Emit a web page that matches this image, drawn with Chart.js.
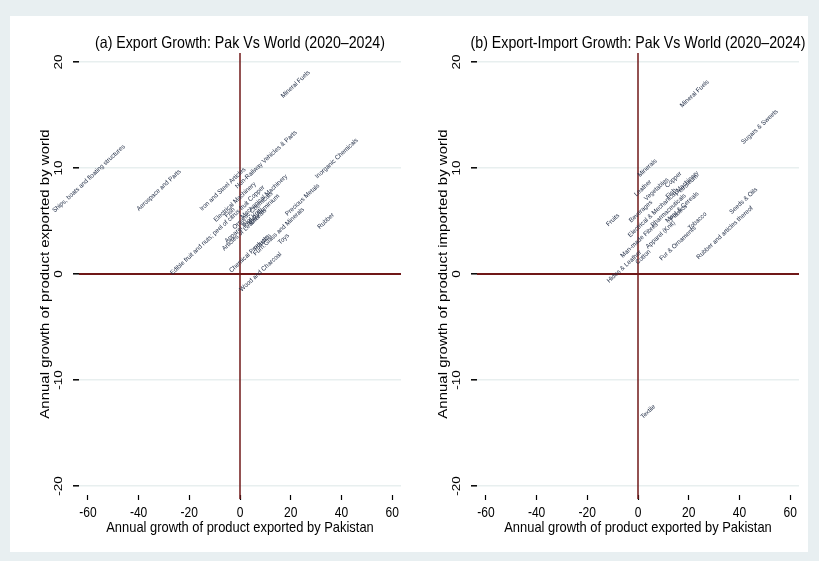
<!DOCTYPE html>
<html>
<head>
<meta charset="utf-8">
<script src="https://cdn.jsdelivr.net/npm/chart.js@4.4.1/dist/chart.umd.min.js"></script>
<style>
  html, body { margin: 0; padding: 0; width: 819px; height: 561px; overflow: hidden; background: #e8eff1; }
  #panel { position: absolute; left: 10px; top: 16px; width: 798px; height: 536px; background: #ffffff; }
  .box { position: absolute; top: 16px; width: 399px; height: 536px; }
</style>
</head>
<body>
<div id="panel"></div>
<div class="box" style="left:10px"><canvas id="exportChart" width="399" height="536"></canvas></div>
<div class="box" style="left:408px"><canvas id="tradeChart" width="399" height="536"></canvas></div>
<script>
// Axis ticks shared by both panels
const xTickValues = [-60, -40, -20, 0, 20, 40, 60];
const yTickValues = [-20, -10, 0, 10, 20];

// (a) Export growth: Pakistan vs world, 2020–2024 (% per year)
const exportProducts = [
  "Ships, boats and floating structures", "Aerospace and Parts", "Iron and Steel Articles",
  "Non-Railway Vehicles & Parts", "Mineral Fuels", "Inorganic Chemicals", "Precious Metals",
  "Rubber", "Furn.Glass and Minerals", "Toys", "Wood and Charcoal", "Chemical Products",
  "Plastics", "Edible fruit and nuts; peel of citrus fruit",
  "Electrical Machinery", "Copper", "Mechanical Machinery", "Aluminium", "Organic Chemicals",
  "Apparel (Not Knit)", "Cereals", "Fish", "Paper", "Articles of Leather"
];
const exportPakGrowth = [
  -59.6, -32.0, -6.8, 10.3, 21.9, 38.1, 24.6,
  33.9, 15.3, 17.2, 8.1, 3.6,
  8.9, -12.0,
  -2.0, 6.5, 9.5, 11.0, 5.0,
  1.5, 7.0, -4.0, 4.0, 0.5
];
const exportWorldGrowth = [
  9.0, 7.9, 8.0, 10.8, 17.9, 10.9, 7.0,
  5.0, 4.0, 3.3, 0.2, 1.9,
  3.0, 3.4,
  6.8, 7.6, 7.3, 6.5, 6.0,
  4.6, 5.4, 5.8, 5.0, 3.9
];

// (b) Pakistan export growth vs world import growth, 2020–2024 (% per year)
const tradeProducts = [
  "Mineral Fuels", "Sugars & Sweets", "Minerals", "Leather", "Vegetables", "Copper",
  "Petroleum", "Fruits", "Beverages", "Tobacco", "Seeds & Oils", "Rubber and articles thereof",
  "Apparel (Knit)", "Hides & Leather", "Textile", "Fur & Ornaments", "Meat & Cereals",
  "Electrical & Mechanical Machinery", "Pharmaceuticals", "Man-made Fibres", "Cotton",
  "Fish", "Plastics"
];
const tradePakGrowth = [
  22.3, 48.0, 3.7, 1.9, 7.3, 14.0,
  19.2, -9.9, 1.1, 23.4, 41.6, 34.2,
  8.9, -5.4, 4.0, 15.7, 17.4,
  10.0, 12.0, 0.5, 2.0,
  13.0, 16.0
];
const tradeWorldGrowth = [
  17.0, 13.9, 10.0, 8.1, 8.0, 8.9,
  8.4, 5.1, 5.9, 5.0, 6.9, 3.9,
  3.7, 0.7, -13.0, 2.9, 6.3,
  6.6, 6.0, 3.2, 1.6,
  7.6, 5.8
];

const FONT = '"Liberation Sans", Arial, sans-serif';
const LABEL_COLOR = '#26324a';
const REF_LINE = '#701818';
const SQUEEZE = 0.86;   // horizontal condensing of axis text

// draw text condensed along the page's x direction, then rotated
function drawText(ctx, text, x, y, size, sx, rot, color) {
  ctx.save();
  ctx.translate(x, y);
  ctx.scale(sx, 1);
  if (rot) ctx.rotate(rot);
  ctx.font = size + 'px ' + FONT;
  ctx.fillStyle = color || '#000';
  ctx.textAlign = 'center';
  ctx.textBaseline = 'middle';
  ctx.fillText(text, 0, 0);
  ctx.restore();
}

// small product labels, rotated and lightly condensed along their own direction
function drawLabel(ctx, text, x, y) {
  ctx.save();
  ctx.translate(x, y);
  ctx.rotate(-43 * Math.PI / 180);
  ctx.scale(0.95, 1);
  ctx.font = '6.5px ' + FONT;
  ctx.fillStyle = LABEL_COLOR;
  ctx.textAlign = 'center';
  ctx.textBaseline = 'middle';
  ctx.fillText(text, 0, 0);
  ctx.restore();
}

const decorPlugin = {
  id: 'decor',
  beforeDatasetsDraw(chart) {
    const { ctx, chartArea: a, scales: { x, y } } = chart;
    ctx.save();
    ctx.strokeStyle = REF_LINE;
    // zero lines
    ctx.lineWidth = 2;
    const y0 = y.getPixelForValue(0);
    ctx.beginPath(); ctx.moveTo(a.left, y0); ctx.lineTo(a.right, y0); ctx.stroke();
    ctx.lineWidth = 1.5;
    const x0 = x.getPixelForValue(0);
    ctx.beginPath(); ctx.moveTo(x0, a.top); ctx.lineTo(x0, a.bottom + 4); ctx.stroke();
    ctx.restore();
  },
  afterDatasetsDraw(chart, args, opts) {
    const { ctx, chartArea: a, scales: { x, y } } = chart;
    const ds = chart.data.datasets[0];
    ds.data.forEach((p, i) => {
      drawLabel(ctx, ds.names[i], x.getPixelForValue(p.x), y.getPixelForValue(p.y));
    });
    // y tick labels (rotated)
    yTickValues.forEach(v => {
      drawText(ctx, String(v), a.left - 20, y.getPixelForValue(v), 13.5, SQUEEZE, -Math.PI / 2);
    });
    // x tick labels
    xTickValues.forEach(v => {
      drawText(ctx, String(v), x.getPixelForValue(v), a.bottom + 18, 14, SQUEEZE, 0);
    });
    // titles
    const cx = (a.left + a.right) / 2;
    drawText(ctx, opts.title, cx, 27, 16.5, SQUEEZE, 0);
    drawText(ctx, opts.xTitle, cx, 512, 15, SQUEEZE, 0);
    drawText(ctx, opts.yTitle, 35, (a.top + a.bottom) / 2, 15, SQUEEZE, -Math.PI / 2);
  }
};

function makeChart(id, names, xs, ys, title, yTitle) {
  const pts = xs.map((v, i) => ({ x: v, y: ys[i] }));
  return new Chart(document.getElementById(id), {
    type: 'scatter',
    data: { datasets: [{ data: pts, names: names, pointRadius: 0, pointHoverRadius: 0 }] },
    options: {
      responsive: false,
      animation: false,
      events: [],
      layout: { padding: { top: 37, right: 8, left: 0, bottom: 0 } },
      plugins: {
        legend: { display: false },
        tooltip: { enabled: false },
        decor: { title: title, xTitle: 'Annual growth of product exported by Pakistan', yTitle: yTitle }
      },
      scales: {
        x: {
          type: 'linear', min: -63.5, max: 63.5,
          afterBuildTicks: s => { s.ticks = xTickValues.map(v => ({ value: v })); },
          afterFit: s => { s.height = 57; },
          ticks: { display: false },
          border: { display: false },
          grid: { drawOnChartArea: false, drawTicks: true, tickLength: 5, tickColor: '#000', tickWidth: 1.2 }
        },
        y: {
          type: 'linear', min: -20.85, max: 20.85,
          afterBuildTicks: s => { s.ticks = yTickValues.map(v => ({ value: v })); },
          afterFit: s => { s.width = 69; },
          ticks: { display: false },
          border: { display: false },
          grid: { color: '#e8efef', lineWidth: 1.6, drawTicks: true, tickLength: 6, tickColor: '#000', tickWidth: 1.5 }
        }
      }
    },
    plugins: [decorPlugin]
  });
}

makeChart('exportChart', exportProducts, exportPakGrowth, exportWorldGrowth,
  '(a) Export Growth: Pak Vs World (2020–2024)', 'Annual growth of product exported by world');
makeChart('tradeChart', tradeProducts, tradePakGrowth, tradeWorldGrowth,
  '(b) Export-Import Growth: Pak Vs World (2020–2024)', 'Annual growth of product imported by world');
</script>
</body>
</html>
